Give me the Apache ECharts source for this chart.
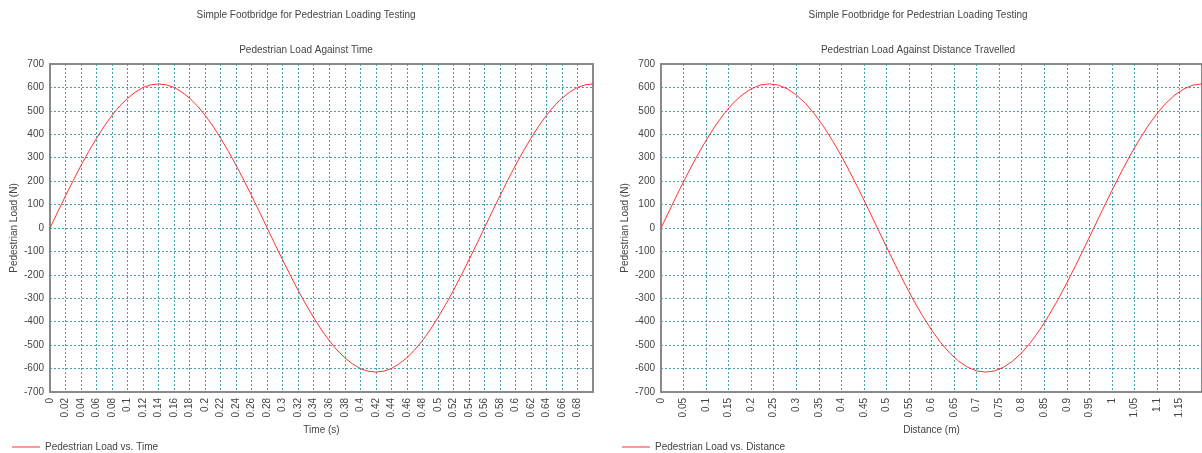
<!DOCTYPE html>
<html><head><meta charset="utf-8">
<script src="https://cdn.jsdelivr.net/npm/echarts@6/dist/echarts.min.js"></script>
<style>html,body{margin:0;padding:0;background:#fff}#c{width:1202px;height:453px}</style>
</head><body><div id="c"></div>
<script>
// Left chart: load against time (s)
const time = [0,0.01,0.02,0.03,0.04,0.05,0.06,0.07,0.08,0.09,0.10,0.11,0.12,0.13,0.14,0.15,0.16,0.17,0.18,0.19,0.20,0.21,0.22,0.23,0.24,0.25,0.26,0.27,0.28,0.29,0.30,0.31,0.32,0.33,0.34,0.35,0.36,0.37,0.38,0.39,0.40,0.41,0.42,0.43,0.44,0.45,0.46,0.47,0.48,0.49,0.50,0.51,0.52,0.53,0.54,0.55,0.56,0.57,0.58,0.59,0.60,0.61,0.62,0.63,0.64,0.65,0.66,0.67,0.68,0.69,0.70];
const loadTime = [0,69,137,203,267,327,383,435,481,521,554,580,600,611,615,611,600,580,554,521,481,435,383,327,267,203,137,69,0,-69,-137,-203,-267,-327,-383,-435,-481,-521,-554,-580,-600,-611,-615,-611,-600,-580,-554,-521,-481,-435,-383,-327,-267,-203,-137,-69,0,69,137,203,267,327,383,435,481,521,554,580,600,611,615];
// Right chart: load against distance (m)
const distance = [0,0.02,0.04,0.06,0.08,0.10,0.12,0.14,0.16,0.18,0.20,0.22,0.24,0.26,0.28,0.30,0.32,0.34,0.36,0.38,0.40,0.42,0.44,0.46,0.48,0.50,0.52,0.54,0.56,0.58,0.60,0.62,0.64,0.66,0.68,0.70,0.72,0.74,0.76,0.78,0.80,0.82,0.84,0.86,0.88,0.90,0.92,0.94,0.96,0.98,1.00,1.02,1.04,1.06,1.08,1.10,1.12,1.14,1.16,1.18,1.20];
const loadDistance = [0,80,159,235,308,374,435,488,533,568,594,610,615,610,594,568,533,488,435,374,308,235,159,80,0,-80,-159,-235,-308,-374,-435,-488,-533,-568,-594,-610,-615,-610,-594,-568,-533,-488,-435,-374,-308,-235,-159,-80,0,80,159,235,308,374,435,488,533,568,594,610,615];

const mainTitle = 'Simple Footbridge for Pedestrian Loading Testing';
const subTitles = ['Pedestrian Load Against Time', 'Pedestrian Load Against Distance Travelled'];
const xNames = ['Time (s)', 'Distance (m)'];
const yName = 'Pedestrian Load (N)';
const seriesNames = ['Pedestrian Load vs. Time', 'Pedestrian Load vs. Distance'];

const FONT = 'Liberation Sans';
const txt = '#444';
const gridColor = '#4a9dab';
const lineColor = '#ff3333';
const fmt = v => String(+v.toFixed(2));

function xAxis(idx, max, interval) {
  return {
    type: 'value', gridIndex: idx, min: 0, max: max, interval: interval,
    name: xNames[idx], nameLocation: 'middle', nameGap: 32,
    nameTextStyle: {color: txt, fontFamily: FONT, fontSize: 10},
    axisLine: {show: false}, axisTick: {show: false},
    axisLabel: {rotate: 90, color: txt, fontFamily: FONT, fontSize: 10, margin: 6, showMaxLabel: false, formatter: fmt},
    splitLine: {show: true, showMinLine: false, showMaxLine: false, lineStyle: {color: gridColor, type: [2, 2], width: 1}}
  };
}
function yAxis(idx) {
  return {
    type: 'value', gridIndex: idx, min: -700, max: 700, interval: 100,
    name: yName, nameLocation: 'middle', nameGap: 31,
    nameTextStyle: {color: txt, fontFamily: FONT, fontSize: 10},
    axisLine: {show: false}, axisTick: {show: false},
    axisLabel: {color: txt, fontFamily: FONT, fontSize: 10, margin: 6},
    splitLine: {show: true, showMinLine: false, showMaxLine: false, lineStyle: {color: gridColor, type: [2, 2], width: 1}}
  };
}

const titleStyle = {color: txt, fontFamily: FONT, fontSize: 10, fontWeight: 'normal'};
const legendCommon = {top: 437, itemWidth: 28, itemHeight: 1, itemGap: 3, icon: 'rect', textStyle: {color: txt, fontFamily: FONT, fontSize: 10}};

const chart = echarts.init(document.getElementById('c'), null, {renderer: 'canvas'});
chart.setOption({
  animation: false,
  backgroundColor: '#fff',
  title: [
    {text: mainTitle, left: 301, top: 5, textAlign: 'center', textStyle: titleStyle},
    {text: subTitles[0], left: 301, top: 40, textAlign: 'center', textStyle: titleStyle},
    {text: mainTitle, left: 913, top: 5, textAlign: 'center', textStyle: titleStyle},
    {text: subTitles[1], left: 913, top: 40, textAlign: 'center', textStyle: titleStyle}
  ],
  grid: [
    {left: 50, top: 64, width: 543, height: 328, show: true, borderColor: '#8a8a8a', borderWidth: 2, backgroundColor: 'transparent'},
    {left: 661, top: 64, width: 543, height: 328, show: true, borderColor: '#8a8a8a', borderWidth: 2, backgroundColor: 'transparent'}
  ],
  xAxis: [xAxis(0, 0.7, 0.02), xAxis(1, 1.2, 0.05)],
  yAxis: [yAxis(0), yAxis(1)],
  legend: [
    Object.assign({data: [seriesNames[0]], left: 7}, legendCommon),
    Object.assign({data: [seriesNames[1]], left: 617}, legendCommon)
  ],
  series: [
    {name: seriesNames[0], type: 'line', xAxisIndex: 0, yAxisIndex: 0, symbol: 'none', data: time.map((t, i) => [t, loadTime[i]]), lineStyle: {color: lineColor, width: 1}, itemStyle: {color: lineColor}},
    {name: seriesNames[1], type: 'line', xAxisIndex: 1, yAxisIndex: 1, symbol: 'none', data: distance.map((d, i) => [d, loadDistance[i]]), lineStyle: {color: lineColor, width: 1}, itemStyle: {color: lineColor}}
  ]
});
</script></body></html>
